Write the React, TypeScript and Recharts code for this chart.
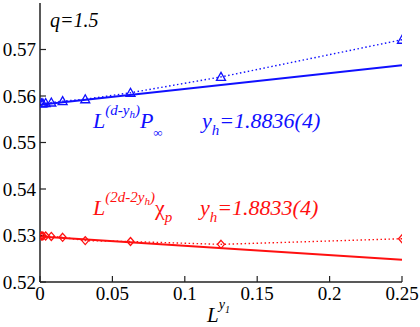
import React from 'react'
import { ComposedChart, Line, XAxis, YAxis } from 'recharts'

// L^{y1} values, L = 4 ... 1024
const lx = [0.25, 0.125, 0.0625, 0.03125, 0.015625, 0.0078125, 0.00390625, 0.001953125, 0.0009765625]
const pInf = [0.5721, 0.5641, 0.5607, 0.5593, 0.5589, 0.5586, 0.5585, 0.5584, 0.5584]
const chiP = [0.5293, 0.5281, 0.5287, 0.5289, 0.5296, 0.5298, 0.5299, 0.5299, 0.5299]

// linear fits
const fitX = [0, 0.25]
const pInfFit = [0.5581, 0.5666]
const chiPFit = [0.5298, 0.5248]

const xTicks = [0, 0.05, 0.1, 0.15, 0.2, 0.25]
const yTicks = [0.52, 0.53, 0.54, 0.55, 0.56, 0.57]

const BLUE = '#1010ff'
const RED = '#ff1010'
const FONT = 'Liberation Serif, Times New Roman, Times, DejaVu Serif, serif'

const blueData = lx.map((x, i) => ({ x, v: pInf[i] }))
const redData = lx.map((x, i) => ({ x, v: chiP[i] }))
const blueFit = fitX.map((x, i) => ({ x, v: pInfFit[i] }))
const redFit = fitX.map((x, i) => ({ x, v: chiPFit[i] }))

const Triangle = (props: any) => {
  const { cx, cy, index } = props
  if (cx == null || cy == null) return null
  return (
    <path
      key={'t' + index}
      d={`M${cx},${cy - 4.5} L${cx + 4.5},${cy + 3.5} L${cx - 4.5},${cy + 3.5} Z`}
      fill="none"
      stroke={BLUE}
      strokeWidth={1.3}
    />
  )
}

const Diamond = (props: any) => {
  const { cx, cy, index } = props
  if (cx == null || cy == null) return null
  return (
    <path
      key={'d' + index}
      d={`M${cx},${cy - 4} L${cx + 3.5},${cy} L${cx},${cy + 4} L${cx - 3.5},${cy} Z`}
      fill="none"
      stroke={RED}
      strokeWidth={1.3}
    />
  )
}

const XTick = (props: any) => {
  const { x, y, payload } = props
  return (
    <text x={x} y={y} dy="0.71em" textAnchor="middle" fill="#000" style={{ fontFamily: FONT, fontSize: 19 }}>
      {String(payload.value)}
    </text>
  )
}

const YTick = (props: any) => {
  const { x, y, payload } = props
  return (
    <text x={x} y={y} dy="0.35em" textAnchor="end" fill="#000" style={{ fontFamily: FONT, fontSize: 19 }}>
      {Number(payload.value).toFixed(2)}
    </text>
  )
}

const axisLine = { stroke: '#222', strokeWidth: 1.5 }
const tickLine = { stroke: '#222', strokeWidth: 1.2 }

export default function App() {
  return (
    <div style={{ position: 'absolute', left: 0, top: 0, width: 420, height: 327, background: '#fff', fontFamily: FONT }}>
      <ComposedChart width={420} height={327} margin={{ top: 3, right: 18, bottom: 0, left: 0 }}>
        <XAxis
          dataKey="x" type="number" domain={[0, 0.25]} ticks={xTicks}
          height={45} tickSize={-6} tickMargin={11}
          axisLine={axisLine} tickLine={tickLine} tick={XTick}
          allowDataOverflow interval={0}
        />
        <XAxis
          xAxisId="top" orientation="top" dataKey="x" type="number" domain={[0, 0.25]} ticks={xTicks}
          height={0} tickSize={-6} tick={false}
          axisLine={axisLine} tickLine={tickLine} allowDataOverflow
        />
        <YAxis
          type="number" domain={[0.52, 0.58]} ticks={yTicks}
          width={40} tickSize={-6} tickMargin={10}
          axisLine={axisLine} tickLine={tickLine} tick={YTick}
          allowDataOverflow interval={0}
        />
        <YAxis
          yAxisId="right" orientation="right" type="number" domain={[0.52, 0.58]} ticks={yTicks}
          width={0} tickSize={-6} tick={false}
          axisLine={axisLine} tickLine={tickLine} allowDataOverflow
        />
        <Line data={blueFit} dataKey="v" stroke={BLUE} strokeWidth={2} dot={false} isAnimationActive={false} />
        <Line data={redFit} dataKey="v" stroke={RED} strokeWidth={2} dot={false} isAnimationActive={false} />
        <Line
          data={blueData} dataKey="v" stroke={BLUE} strokeWidth={1.4} strokeDasharray="1.5 2.5"
          dot={Triangle} activeDot={false} isAnimationActive={false}
        />
        <Line
          data={redData} dataKey="v" stroke={RED} strokeWidth={1.4} strokeDasharray="1.5 2.5"
          dot={Diamond} activeDot={false} isAnimationActive={false}
        />
      </ComposedChart>
      <svg
        width={420} height={327}
        style={{ position: 'absolute', left: 0, top: 0, pointerEvents: 'none', fontFamily: FONT }}
      >
        <text x={50} y={27} fontSize={20} fontStyle="italic" fill="#000">q=1.5</text>

        <text x={93} y={128} fontSize={22} fontStyle="italic" fill={BLUE}>
          L
          <tspan y={115} fontSize={15}>(d-y</tspan>
          <tspan y={118} fontSize={11}>h</tspan>
          <tspan y={115} fontSize={15}>)</tspan>
          <tspan y={128} fontSize={22}>P</tspan>
          <tspan y={137} fontSize={13} fontStyle="normal">∞</tspan>
        </text>
        <text x={202} y={128} fontSize={22} fontStyle="italic" fill={BLUE}>
          y
          <tspan y={135} fontSize={15}>h</tspan>
          <tspan y={128} fontSize={22}>=1.8836(4)</tspan>
        </text>

        <text x={93} y={215} fontSize={22} fontStyle="italic" fill={RED}>
          L
          <tspan y={202} fontSize={15}>(2d-2y</tspan>
          <tspan y={205} fontSize={11}>h</tspan>
          <tspan y={202} fontSize={15}>)</tspan>
          <tspan y={215} fontSize={22} fontStyle="normal">χ</tspan>
          <tspan y={222} fontSize={15}>p</tspan>
        </text>
        <text x={200} y={215} fontSize={22} fontStyle="italic" fill={RED}>
          y
          <tspan y={222} fontSize={15}>h</tspan>
          <tspan y={215} fontSize={22}>=1.8833(4)</tspan>
        </text>

        <text x={207} y={322} fontSize={21} fontStyle="italic" fill="#000">
          L
          <tspan y={309} fontSize={14}>y</tspan>
          <tspan y={313} fontSize={10}>1</tspan>
        </text>
      </svg>
    </div>
  )
}
